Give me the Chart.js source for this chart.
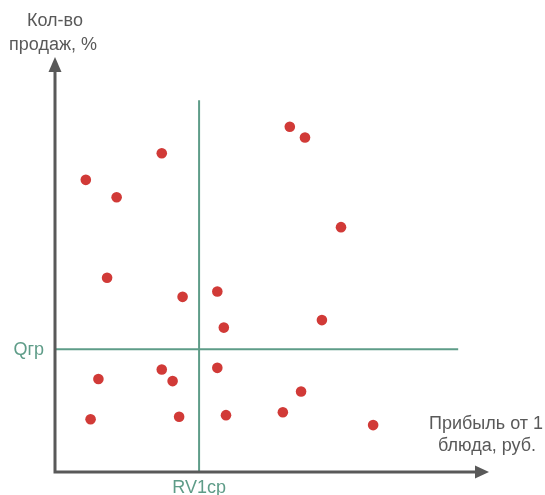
<!DOCTYPE html>
<html>
<head>
<meta charset="utf-8">
<script src="https://cdn.jsdelivr.net/npm/chart.js@4"></script>
<style>
    html, body { margin: 0; padding: 0; background: #fff; }
    #wrap { width: 545px; height: 495px; }
</style>
</head>
<body>
<div id="wrap"><canvas id="matrix-chart" width="545" height="495"></canvas></div>
<script>
// ===== Data (axis units 0..100) =====
const profitX = [54.1, 57.6, 24.6, 7.1, 14.2, 65.9, 12.0, 29.4, 37.4, 38.9, 61.5, 10.0, 24.6, 27.1, 37.4, 56.7, 8.2, 28.6, 39.4, 52.5, 73.3];
const salesY = [83.2, 80.6, 76.8, 70.4, 66.2, 59.0, 46.8, 42.2, 43.5, 34.8, 36.6, 22.4, 24.7, 21.9, 25.1, 19.4, 12.7, 13.3, 13.7, 14.4, 11.3];

const avgProfit = 33.2;      // RV1ср
const limitSales = 29.6;     // Qгр
const avgLineTop = 89.6;
const limitLineRight = 92.9;

const yAxisTitle = ['Кол-во', 'продаж, %'];
const xAxisTitle = ['Прибыль от 1', 'блюда, руб.'];
const avgLabel = 'RV1ср';
const limitLabel = 'Qгр';

const AXIS_COLOR = '#595959';
const LINE_COLOR = '#5e9c88';
const POINT_COLOR = '#d13a37';
const FONT = '18px "Liberation Sans", Arial, sans-serif';

const matrixPlugin = {
    id: 'matrix',
    beforeDatasetsDraw(chart) {
        const ctx = chart.ctx;
        const x = chart.scales.x, y = chart.scales.y;
        const x0 = x.getPixelForValue(0), y0 = y.getPixelForValue(0);
        const xEnd = x.getPixelForValue(100), yEnd = y.getPixelForValue(100);
        ctx.save();

        // green threshold lines
        ctx.strokeStyle = LINE_COLOR;
        ctx.lineWidth = 2;
        const ax = x.getPixelForValue(avgProfit);
        ctx.beginPath();
        ctx.moveTo(ax, y.getPixelForValue(avgLineTop));
        ctx.lineTo(ax, y0);
        ctx.stroke();
        const ly = y.getPixelForValue(limitSales);
        ctx.beginPath();
        ctx.moveTo(x0, ly);
        ctx.lineTo(x.getPixelForValue(limitLineRight), ly);
        ctx.stroke();

        // axes with arrows
        ctx.strokeStyle = AXIS_COLOR;
        ctx.fillStyle = AXIS_COLOR;
        ctx.lineWidth = 3;
        ctx.beginPath();
        ctx.moveTo(x0, yEnd + 14);
        ctx.lineTo(x0, y0);
        ctx.lineTo(xEnd - 13, y0);
        ctx.stroke();

        ctx.beginPath();
        ctx.moveTo(x0, yEnd);
        ctx.lineTo(x0 - 6.5, yEnd + 15);
        ctx.lineTo(x0 + 6.5, yEnd + 15);
        ctx.closePath();
        ctx.fill();

        ctx.beginPath();
        ctx.moveTo(xEnd, y0);
        ctx.lineTo(xEnd - 14, y0 - 6.5);
        ctx.lineTo(xEnd - 14, y0 + 6.5);
        ctx.closePath();
        ctx.fill();
        ctx.restore();
    },
    afterDraw(chart) {
        const ctx = chart.ctx;
        const x = chart.scales.x, y = chart.scales.y;
        const x0 = x.getPixelForValue(0), y0 = y.getPixelForValue(0);
        const xEnd = x.getPixelForValue(100);
        ctx.save();
        ctx.font = FONT;
        ctx.textBaseline = 'middle';

        ctx.fillStyle = AXIS_COLOR;
        ctx.textAlign = 'center';
        ctx.fillText(yAxisTitle[0], x0, 21);
        ctx.fillText(yAxisTitle[1], x0 - 2, 45);
        ctx.fillText(xAxisTitle[0], xEnd - 3, 424);
        ctx.fillText(xAxisTitle[1], xEnd - 2, 446);

        ctx.fillStyle = LINE_COLOR;
        ctx.fillText(avgLabel, x.getPixelForValue(avgProfit), y0 + 16);
        ctx.textAlign = 'right';
        ctx.fillText(limitLabel, x0 - 11, y.getPixelForValue(limitSales) + 1);
        ctx.restore();
    }
};

new Chart(document.getElementById('matrix-chart'), {
    type: 'scatter',
    data: {
        datasets: [{
            data: profitX.map((v, i) => ({ x: v, y: salesY[i] })),
            backgroundColor: POINT_COLOR,
            borderWidth: 0,
            pointRadius: 5.3,
            pointHoverRadius: 5.3
        }]
    },
    options: {
        responsive: false,
        animation: false,
        events: [],
        layout: { padding: { left: 55, right: 56, top: 57, bottom: 23 } },
        plugins: { legend: { display: false }, tooltip: { enabled: false } },
        scales: {
            x: { type: 'linear', min: 0, max: 100, display: false },
            y: { type: 'linear', min: 0, max: 100, display: false }
        }
    },
    plugins: [matrixPlugin]
});
</script>
</body>
</html>
